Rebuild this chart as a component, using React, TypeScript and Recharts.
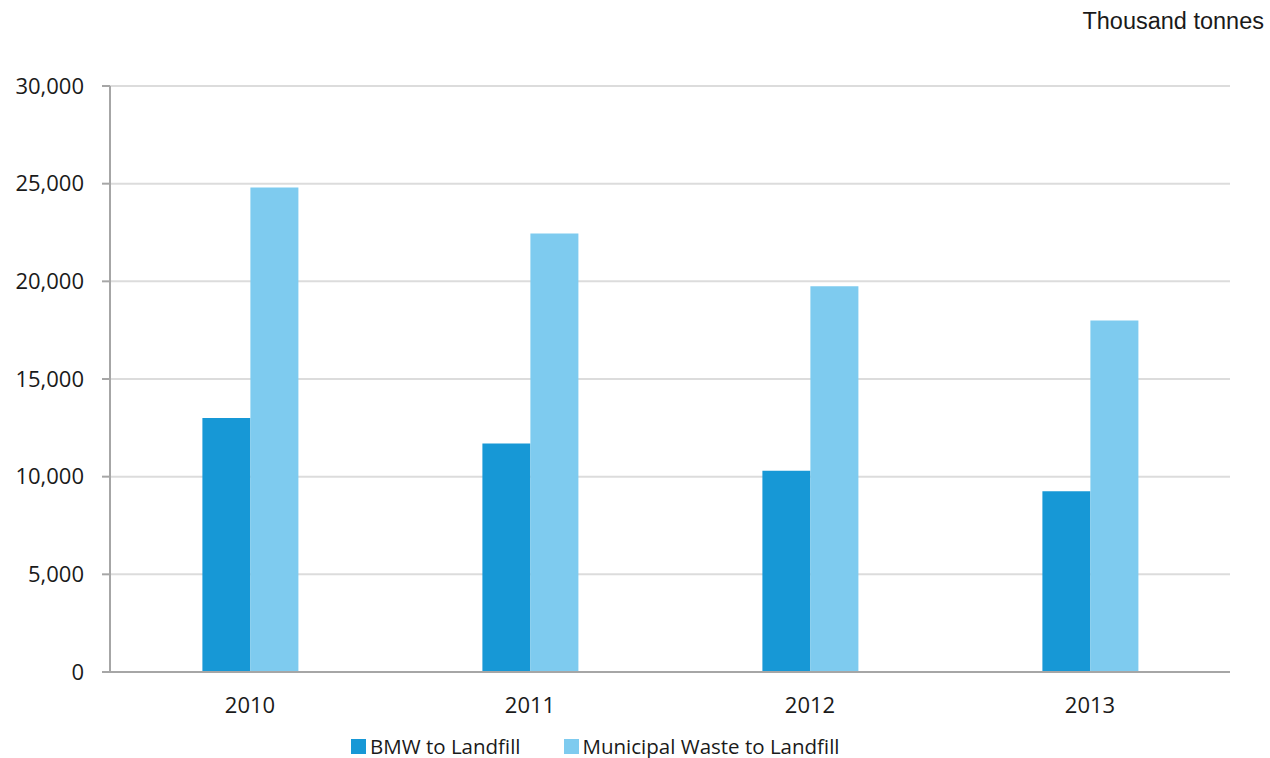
import React from "react";
import {
  BarChart,
  Bar,
  XAxis,
  YAxis,
  CartesianGrid,
  Legend,
} from "recharts";

const YEARS = ["2010", "2011", "2012", "2013"];
const BMW = [13000, 11700, 10300, 9250];
const MUNICIPAL = [24800, 22450, 19750, 18000];
const Y_TICKS = [0, 5000, 10000, 15000, 20000, 25000, 30000];

const SERIES = [
  { key: "bmw", name: "BMW to Landfill", color: "#1798d6" },
  { key: "municipal", name: "Municipal Waste to Landfill", color: "#7ecbef" },
];

const data = YEARS.map((year, i) => ({
  year,
  bmw: BMW[i],
  municipal: MUNICIPAL[i],
}));

const FONT = "'Open Sans', 'Noto Sans', sans-serif";

const LegendContent = () => (
  <div style={{ display: "flex", alignItems: "center", fontFamily: FONT, fontSize: 20.5, color: "#1a1a1a" }}>
    {SERIES.map((s, i) => (
      <div key={s.key} style={{ display: "flex", alignItems: "center", marginRight: i === 0 ? 43 : 0 }}>
        <span style={{ width: 15, height: 15, background: s.color, display: "inline-block", marginRight: 4 }} />
        <span>{s.name}</span>
      </div>
    ))}
  </div>
);

const App = () => {
  return (
    <div style={{ position: "absolute", left: 0, top: 0, width: 1270, height: 758, background: "#fff" }}>
      <div
        style={{
          position: "absolute",
          right: 6,
          top: 8,
          fontFamily: "'Liberation Sans', Arial, sans-serif",
          fontSize: 23.5,
          color: "#1a1a1a",
        }}
      >
        Thousand tonnes
      </div>
      <BarChart
        width={1270}
        height={758}
        data={data}
        margin={{ top: 86, right: 40, left: 0, bottom: 0 }}
        barCategoryGap="33%"
        barGap={0}
      >
        <CartesianGrid vertical={false} stroke="#dcdcdc" strokeWidth={2} />
        <XAxis
          dataKey="year"
          height={60}
          tickLine={false}
          tickSize={0}
          tickMargin={25}
          axisLine={{ stroke: "#a6a6a6", strokeWidth: 2 }}
          tick={{ fill: "#1a1a1a", fontSize: 22, fontFamily: FONT }}
        />
        <YAxis
          width={110}
          domain={[0, 30000]}
          ticks={Y_TICKS}
          interval={0}
          tickSize={8}
          tickMargin={18}
          tickLine={{ stroke: "#a6a6a6", strokeWidth: 2 }}
          axisLine={{ stroke: "#a6a6a6", strokeWidth: 2 }}
          tick={{ fill: "#1a1a1a", fontSize: 22, fontFamily: FONT }}
          tickFormatter={(v: number) => v.toLocaleString("en-US")}
        />
        <Legend
          verticalAlign="bottom"
          height={26}
          content={<LegendContent />}
          wrapperStyle={{ left: 351, width: "auto", bottom: 0 }}
        />
        {SERIES.map((s) => (
          <Bar key={s.key} dataKey={s.key} name={s.name} fill={s.color} isAnimationActive={false} />
        ))}
      </BarChart>
    </div>
  );
};

export default App;
